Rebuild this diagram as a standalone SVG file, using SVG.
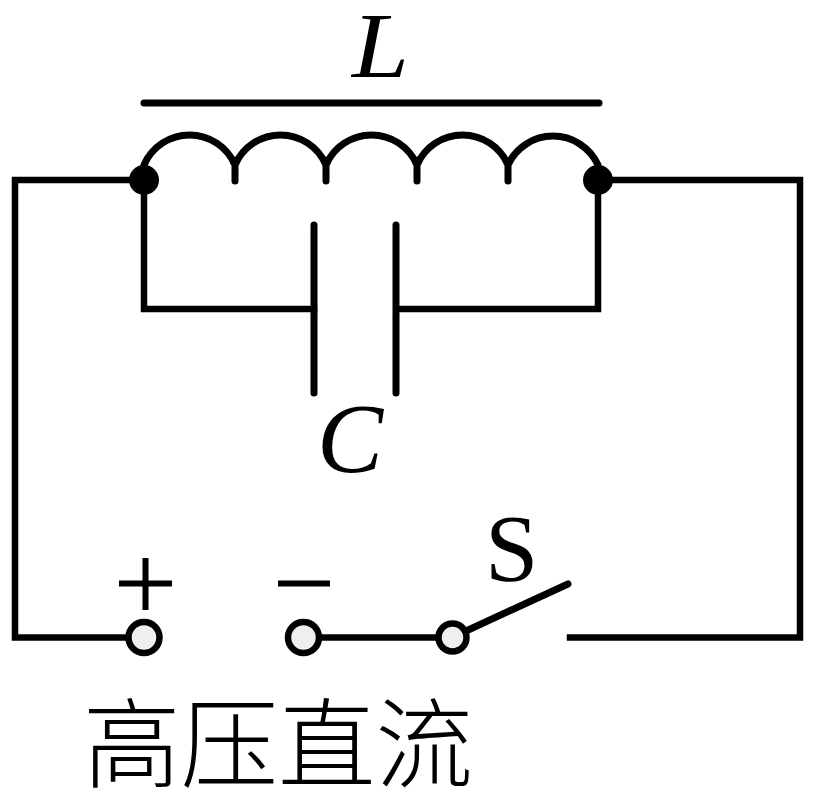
<svg xmlns="http://www.w3.org/2000/svg" width="814" height="799" viewBox="0 0 814 799">
<style>
.w{fill:none;stroke:#000;stroke-width:6.500;stroke-linecap:square;stroke-linejoin:miter}
.r{fill:none;stroke:#000;stroke-width:7;stroke-linecap:round;stroke-linejoin:round}
.b{fill:none;stroke:#000;stroke-width:6;stroke-linecap:butt}
.t{fill:#000;font-family:"Liberation Serif","Noto Sans CJK SC",serif}
.o{fill:#efefef;stroke:#000;stroke-width:6.500}
</style>
<rect width="814" height="799" fill="#fff"/>
<g id="connectors">
<path class="w" d="M144 180H15V637.500H128"/>
<path class="w" d="M144 180V309H314"/>
<path class="w" d="M598 180V309H397"/>
<path class="w" d="M598 180H800V637.500H570"/>
<path class="w" d="M320 637.500H436"/>
<path class="r" d="M466 631L568 584"/>
<path class="r" d="M144 103H599"/>
<path class="r" d="M144 165A49.500 49.500 0 0 1 235 165V181M235 165A49.500 49.500 0 0 1 326 165V181M326 165A49.500 49.500 0 0 1 417 165V181M417 165A49.500 49.500 0 0 1 508 165V181M508 165A49.500 49.500 0 0 1 598 165"/>
</g>
<g id="capacitor"><path class="r" d="M314 225V393M396 225V393"/><text class="t" x="317" y="472" font-size="99" font-style="italic">C</text></g>
<g id="inductor-label"><text class="t" x="352" y="77" font-size="94" font-style="italic" textLength="57" lengthAdjust="spacingAndGlyphs">L</text></g>
<g id="node-left"><circle cx="144" cy="180" r="15"/></g>
<g id="node-right"><circle cx="598" cy="180" r="15"/></g>
<g id="terminal-plus"><circle class="o" cx="144" cy="637.500" r="15.500"/><path class="b" d="M119 583.500H172M145.500 558V610"/></g>
<g id="terminal-minus"><circle class="o" cx="303.500" cy="637.500" r="15.500"/><path class="b" d="M278 583.500H330"/></g>
<g id="switch"><circle class="o" cx="452.500" cy="637.500" r="14"/><text class="t" x="485" y="581" font-size="96">S</text></g>
<g id="source-label"><text class="t" x="83" y="780" font-size="97.500" style="font-family:'Noto Sans CJK SC',serif;font-weight:300">高压直流</text></g>
</svg>
